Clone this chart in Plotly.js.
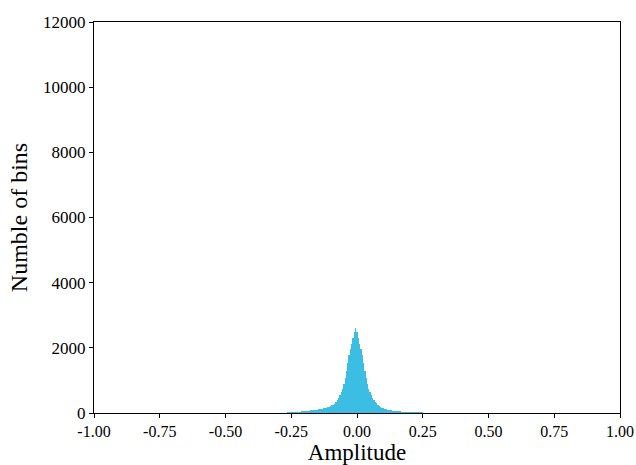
<!DOCTYPE html>
<html>
<head>
<meta charset="utf-8">
<script src="https://cdn.plot.ly/plotly-3.0.1.min.js"></script>
<style>html,body{margin:0;padding:0;background:#fff;}#chart{width:636px;height:465px;}</style>
</head>
<body>
<div id="chart"></div>
<script>
// Histogram bins: first bin centre and bin width (amplitude units)
const binStart = -0.320;
const binWidth = 0.005;
// Counts per bin (bins from -0.320 to 0.300)
const counts = [
  2, 4, 6, 7, 8, 9, 10, 11, 12, 13,
  15, 17, 19, 21, 24, 27, 30, 33, 36, 39,
  42, 46, 50, 54, 58, 62, 66, 70, 74, 78,
  83, 88, 94, 100, 106, 113, 120, 128, 136, 145,
  155, 166, 180, 196, 214, 234, 258, 285, 330, 390,
  460, 540, 630, 740, 880, 1080, 1300, 1550, 1780, 1960,
  2120, 2300, 2480, 2600,
  2480, 2300, 2120, 1960, 1780, 1550, 1300, 1080, 880, 740,
  630, 540, 460, 400, 345, 295, 255, 220, 190, 165,
  148, 132, 118, 105, 94, 86, 79, 73, 67, 62,
  58, 54, 51, 48, 45, 43, 41, 38, 36, 34,
  32, 30, 28, 26, 25, 23, 22, 21, 20, 18,
  17, 15, 13, 11, 9, 7, 5, 4, 3, 2, 1
];
const xTickVals = [-1, -0.75, -0.5, -0.25, 0, 0.25, 0.5, 0.75, 1];
const xTickText = ['-1.00', '-0.75', '-0.50', '-0.25', '0.00', '0.25', '0.50', '0.75', '1.00'];
const yTickVals = [0, 2000, 4000, 6000, 8000, 10000, 12000];
const yTickText = ['0', '2000', '4000', '6000', '8000', '10000', '12000'];
const xTitle = 'Amplitude';
const yTitle = 'Numble of bins';

const binCenters = counts.map((_, i) => +(binStart + i * binWidth).toFixed(4));

const font = {family: 'Liberation Serif, Times New Roman, serif', color: '#000'};

Plotly.newPlot('chart', [{
  type: 'bar',
  x: binCenters,
  y: counts,
  width: binWidth,
  marker: {color: '#3bbde4', line: {width: 0}},
  hoverinfo: 'x+y'
}], {
  width: 636, height: 465,
  margin: {l: 94, r: 16, t: 22, b: 52},
  paper_bgcolor: '#fff', plot_bgcolor: '#fff',
  showlegend: false,
  bargap: 0,
  font: Object.assign({size: 16}, font),
  xaxis: {
    range: [-1, 1],
    tickvals: xTickVals, ticktext: xTickText,
    ticks: 'outside', ticklen: 4, tickwidth: 1, tickcolor: '#000',
    showline: true, linecolor: '#000', linewidth: 1, mirror: true,
    showgrid: false, zeroline: false,
    tickfont: Object.assign({size: 16}, font),
    title: {text: xTitle, font: Object.assign({size: 23}, font)}
  },
  yaxis: {
    range: [0, 12000],
    tickvals: yTickVals, ticktext: yTickText,
    ticks: 'outside', ticklen: 4, tickwidth: 1, tickcolor: '#000',
    showline: true, linecolor: '#000', linewidth: 1, mirror: true,
    showgrid: false, zeroline: false,
    tickfont: Object.assign({size: 17}, font),
    title: {text: yTitle, font: Object.assign({size: 24}, font), standoff: 8}
  }
}, {displayModeBar: false, staticPlot: true});
</script>
</body>
</html>
